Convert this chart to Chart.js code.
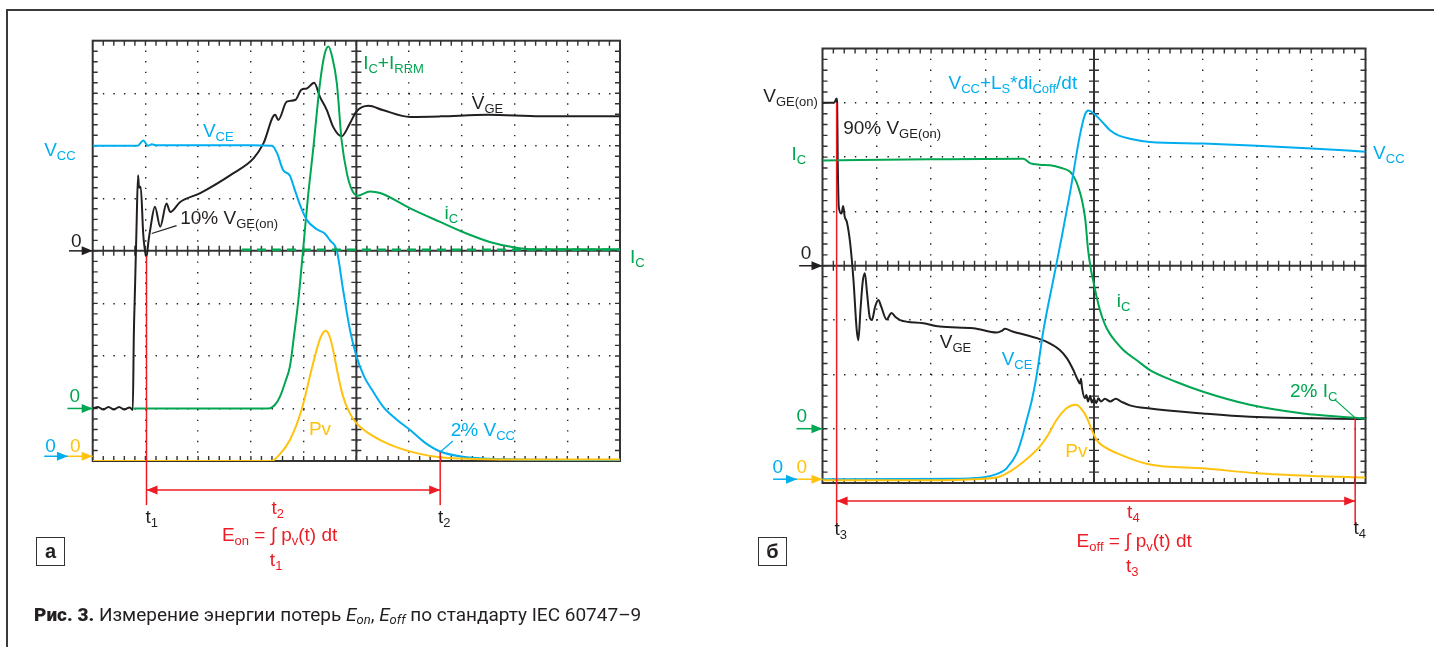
<!DOCTYPE html>
<html>
<head>
<meta charset="utf-8">
<script src="https://cdn.jsdelivr.net/npm/chart.js@4.4.0/dist/chart.umd.min.js"></script>
<style>
  body { margin: 0; background: #fff; width: 1434px; height: 647px; overflow: hidden; position: relative; font-family: "Liberation Sans", Arial, sans-serif; }
  #frame { position: absolute; left: 6px; top: 9px; width: 1440px; height: 660px; border-left: 2px solid #3a3a3a; border-top: 2px solid #3a3a3a; }
  .panel { position: absolute; top: 0; width: 717px; height: 647px; }
  .tag { position: absolute; top: 537px; width: 27px; height: 27px; border: 1.5px solid #333; font: bold 20px "Liberation Sans", Arial, sans-serif; text-align: center; line-height: 26px; color: #231f20; }
  #cap { position: absolute; left: 34px; top: 603px; font-family: "Liberation Sans Narrow", "Roboto", sans-serif; font-size: 19px; color: #231f20; white-space: nowrap; }
  #cap b { font-weight: 900; }
  #cap sub { font-size: 13px; vertical-align: -3px; }
</style>
</head>
<body>
<div id="frame"></div>
<div class="panel" style="left:0"><canvas id="onChart" width="717" height="647"></canvas></div>
<div class="panel" style="left:717px"><canvas id="offChart" width="717" height="647"></canvas></div>
<div class="tag" style="left:36px">а</div>
<div class="tag" style="left:758px">б</div>
<div id="cap"><b>Рис. 3.</b> Измерение энергии потерь <i>E<sub>on</sub></i>, <i>E<sub>off</sub></i> по стандарту IEC 60747–9</div>

<script>
// --- данные: [время (дел.), уровень (дел.)], экран 10 x 8 делений ---

// включение (а)
const onVGE = [[0,1.0],[0.1,1.03],[0.2,0.98],[0.3,1.03],[0.4,0.98],[0.5,1.03],[0.6,0.98],[0.7,1.02],[0.76,0.97],
  [0.78,2.4],[0.8,3.2],[0.83,4.4],[0.86,5.44],[0.88,5.2],[0.91,5.22],[0.96,4.3],[1.02,3.89],[1.06,4.2],[1.09,4.4],
  [1.18,4.84],[1.28,4.46],[1.4,4.9],[1.47,4.74],[1.66,4.93],[2.04,5.1],[2.67,5.48],[3.05,5.76],[3.24,6.05],
  [3.46,6.59],[3.52,6.49],[3.68,6.84],[3.84,6.87],[3.96,7.07],[4.06,7.09],[4.2,7.2],[4.31,6.93],[4.44,6.68],
  [4.56,6.36],[4.72,6.18],[4.88,6.43],[5.0,6.65],[5.23,6.76],[5.5,6.68],[6.02,6.55],[6.6,6.56],[7.5,6.59],
  [8.5,6.56],[10,6.56]];
const onVCE = [[0,6.0],[0.85,6.0],[0.96,6.1],[1.05,6.0],[1.12,6.03],[1.2,6.01],[3.0,6.01],[3.4,6.0],[3.5,5.85],
  [3.61,5.54],[3.74,5.43],[3.82,5.2],[3.94,4.85],[4.06,4.59],[4.25,4.41],[4.4,4.33],[4.5,4.2],[4.63,4.0],
  [4.75,3.25],[4.88,2.49],[5.0,2.0],[5.15,1.6],[5.3,1.35],[5.51,1.03],[5.75,0.8],[6.02,0.59],[6.3,0.35],
  [6.59,0.18],[7.02,0.08],[8.0,0.03],[10,0.02]];
const onIC = [[0.77,1.0],[3.33,1.0],[3.45,1.06],[3.55,1.22],[3.65,1.5],[3.74,1.8],[3.82,2.4],[3.9,3.06],[3.99,4.02],
  [4.08,5.0],[4.18,5.92],[4.31,7.19],[4.4,7.75],[4.47,7.89],[4.54,7.7],[4.63,7.19],[4.72,6.11],[4.82,5.48],
  [4.92,5.15],[5.02,5.05],[5.26,5.13],[5.45,5.1],[6.02,4.81],[6.59,4.55],[7.09,4.33],[7.53,4.17],[7.98,4.07],
  [8.36,4.03],[10,4.03]];
const onICLevel = [[2.83,4.02],[10,4.02]];
const onPV = [[0,0],[3.39,0],[3.55,0.13],[3.74,0.4],[3.96,0.97],[4.18,1.86],[4.32,2.35],[4.42,2.48],[4.5,2.35],
  [4.56,2.11],[4.65,1.65],[4.75,1.22],[4.87,0.92],[5.0,0.72],[5.2,0.55],[5.51,0.37],[5.8,0.25],[6.14,0.15],
  [6.59,0.07],[7.2,0.04],[8.5,0.03],[10,0.03]];
const onMarks = [1.02, 6.59];   // t1, t2

// выключение (б)
const offVGE = [[0,7.0],[0.2,7.0],[0.23,7.02],[0.26,7.08],[0.27,7.0],[0.28,6.0],[0.3,5.08],[0.35,4.96],[0.38,5.1],
  [0.41,4.9],[0.45,4.8],[0.51,4.41],[0.57,3.74],[0.63,2.82],[0.66,2.63],[0.7,3.2],[0.74,3.7],[0.78,3.86],
  [0.82,3.5],[0.87,3.05],[0.91,3.0],[0.97,3.25],[1.03,3.37],[1.08,3.25],[1.18,3.01],[1.27,3.13],[1.35,3.05],
  [1.43,3.0],[1.86,2.94],[2.16,2.88],[2.78,2.85],[3.21,2.77],[3.3,2.8],[3.36,2.84],[3.5,2.79],[3.76,2.72],
  [4.13,2.6],[4.37,2.45],[4.5,2.3],[4.62,2.08],[4.7,1.9],[4.74,1.83],[4.76,1.92],[4.78,1.75],[4.83,1.56],
  [4.86,1.62],[4.89,1.5],[4.93,1.6],[4.96,1.48],[5.0,1.55],[5.04,1.47],[5.08,1.56],[5.13,1.5],[5.2,1.55],
  [5.3,1.5],[5.4,1.55],[5.5,1.5],[5.66,1.43],[6.03,1.37],[7.01,1.28],[7.87,1.22],[10,1.18]];
const offVCE = [[0,0.07],[2.5,0.08],[3.0,0.11],[3.27,0.19],[3.39,0.27],[3.58,0.55],[3.68,0.85],[3.76,1.16],
  [3.85,1.5],[3.94,1.96],[4.07,2.82],[4.25,3.74],[4.4,4.5],[4.56,5.35],[4.74,6.4],[4.84,6.8],[4.9,6.86],
  [5.0,6.8],[5.15,6.65],[5.29,6.5],[5.45,6.4],[5.66,6.34],[6.03,6.28],[7.01,6.25],[8.0,6.21],[9.01,6.16],[10,6.1]];
const offIC = [[0,5.94],[2.0,5.96],[3.7,5.97],[3.82,5.89],[4.0,5.86],[4.19,5.85],[4.4,5.8],[4.56,5.73],[4.65,5.6],
  [4.71,5.45],[4.78,5.2],[4.84,4.85],[4.89,4.3],[4.94,3.95],[4.99,3.7],[5.05,3.42],[5.11,3.18],[5.2,2.92],
  [5.29,2.75],[5.42,2.58],[5.54,2.45],[5.8,2.25],[6.03,2.08],[6.52,1.86],[7.01,1.68],[7.87,1.44],[8.85,1.28],
  [9.81,1.2],[10,1.18]];
const offPV = [[0,0.05],[2.0,0.05],[2.78,0.07],[3.27,0.12],[3.5,0.24],[3.7,0.39],[4.0,0.67],[4.15,0.88],[4.31,1.16],
  [4.5,1.38],[4.67,1.44],[4.77,1.36],[4.86,1.22],[4.95,1.0],[5.05,0.79],[5.17,0.68],[5.42,0.55],[6.03,0.34],
  [7.01,0.27],[8.0,0.18],[9.01,0.13],[10,0.1]];
const offMarks = [0.26, 9.81]; // t3, t4

const BLUE = '#00aeef', GREEN = '#00a651', YELLOW = '#ffc20e', BLACK = '#231f20', RED = '#ed1c24';
const FONT = '"Liberation Sans", Arial, sans-serif';

// текст вида "V_{GE(on)}" -> основной + нижний индекс
function drawRich(ctx, x, y, text, color, size) {
  const parts = text.split(/_\{([^}]*)\}/);
  ctx.fillStyle = color;
  ctx.textAlign = 'left';
  ctx.textBaseline = 'alphabetic';
  let cx = x;
  parts.forEach((p, i) => {
    if (!p) return;
    const sub = i % 2 === 1;
    ctx.font = (sub ? 13 : size) + 'px ' + FONT;
    ctx.fillText(p, cx, sub ? y + 4 : y);
    cx += ctx.measureText(p).width;
  });
}

function drawArrow(ctx, x1, y1, x2, y2, color, both) {
  ctx.strokeStyle = color; ctx.fillStyle = color; ctx.lineWidth = 1.5;
  ctx.beginPath(); ctx.moveTo(x1, y1); ctx.lineTo(x2, y2); ctx.stroke();
  const head = (tx, ty, dir) => {
    ctx.beginPath();
    ctx.moveTo(tx, ty);
    ctx.lineTo(tx - dir * 11, ty - 4.5);
    ctx.lineTo(tx - dir * 11, ty + 4.5);
    ctx.closePath(); ctx.fill();
  };
  head(x2, y2, 1);
  if (both) head(x1, y1, -1);
}

const scopePlugin = {
  id: 'scope',
  beforeDatasetsDraw(chart) {
    const { ctx, chartArea: a, scales: { x, y } } = chart;
    const cx = x.getPixelForValue(5), cy = y.getPixelForValue(4);
    ctx.save();
    ctx.strokeStyle = '#333';
    ctx.lineWidth = 2;
    ctx.strokeRect(a.left, a.top, a.width, a.height);
    ctx.beginPath();
    ctx.moveTo(a.left, cy); ctx.lineTo(a.right, cy);
    ctx.moveTo(cx, a.top); ctx.lineTo(cx, a.bottom);
    ctx.stroke();
    ctx.lineWidth = 1.4;
    ctx.beginPath();
    for (let i = 1; i < 50; i++) {
      const px = x.getPixelForValue(i / 5);
      ctx.moveTo(px, a.top); ctx.lineTo(px, a.top + 5);
      ctx.moveTo(px, a.bottom); ctx.lineTo(px, a.bottom - 5);
      ctx.moveTo(px, cy - 5); ctx.lineTo(px, cy + 5);
    }
    for (let i = 1; i < 40; i++) {
      const py = y.getPixelForValue(i / 5);
      ctx.moveTo(a.left, py); ctx.lineTo(a.left + 5, py);
      ctx.moveTo(a.right, py); ctx.lineTo(a.right - 5, py);
      ctx.moveTo(cx - 5, py); ctx.lineTo(cx + 5, py);
    }
    ctx.stroke();
    ctx.restore();
  },
  afterDatasetsDraw(chart, args, o) {
    const { ctx, scales: { x, y } } = chart;
    const X = v => x.getPixelForValue(v), Y = v => y.getPixelForValue(v);
    ctx.save();
    (o.lines || []).forEach(l => {
      ctx.strokeStyle = l.c; ctx.lineWidth = l.w || 1.5;
      ctx.beginPath(); ctx.moveTo(X(l.x1), Y(l.y1)); ctx.lineTo(X(l.x2), Y(l.y2)); ctx.stroke();
    });
    (o.arrows || []).forEach(r => drawArrow(ctx, X(r.x1), Y(r.y1), X(r.x2), Y(r.y2), r.c, r.both));
    (o.labels || []).forEach(t => drawRich(ctx, X(t.x), Y(t.y), t.t, t.c, 19));
    ctx.restore();
  }
};

function scopeChart(id, pad, dot, series, annot) {
  const axis = (min, max, horiz) => ({
    type: 'linear', min: min, max: max,
    ticks: { display: false, stepSize: 1 },
    grid: { color: '#222', lineWidth: 1.4, drawTicks: false },
    border: { display: false, dash: [1.4, dot - 1.4], dashOffset: 0.7 },
    afterFit: s => { if (horiz) s.height = 0; else s.width = 0; }
  });
  return new Chart(document.getElementById(id), {
    type: 'line',
    data: {
      datasets: series.map(s => ({
        data: s.data.map(p => ({ x: p[0], y: p[1] })),
        borderColor: s.c,
        borderWidth: s.w || 2,
        borderDash: s.dash || [],
        pointRadius: 0,
        cubicInterpolationMode: 'monotone',
        fill: false
      }))
    },
    options: {
      responsive: false,
      animation: false,
      events: [],
      layout: { padding: pad },
      scales: { x: axis(0, 10, true), y: axis(0, 8, false) },
      plugins: { legend: { display: false }, tooltip: { enabled: false }, scope: annot }
    },
    plugins: [scopePlugin]
  });
}

scopeChart('onChart', { left: 92.7, right: 97, top: 40.7, bottom: 186 }, 52.73 / 5, [
  { data: onICLevel, c: GREEN, w: 2.5, dash: [9, 6] },
  { data: onPV, c: YELLOW },
  { data: onVCE, c: BLUE },
  { data: onIC, c: GREEN },
  { data: onVGE, c: BLACK }
], {
  lines: [
    { x1: onMarks[0], y1: 3.9, x2: onMarks[0], y2: -0.84, c: RED },
    { x1: onMarks[1], y1: 0.18, x2: onMarks[1], y2: -0.84, c: RED },
    { x1: 1.12, y1: 4.33, x2: 1.59, y2: 4.48, c: BLACK, w: 1.2 },
    { x1: 6.59, y1: 0.17, x2: 6.83, y2: 0.38, c: BLUE, w: 1.2 }
  ],
  arrows: [
    { x1: -0.45, y1: 4, x2: 0, y2: 4, c: BLACK },
    { x1: -0.48, y1: 1, x2: 0, y2: 1, c: GREEN },
    { x1: -0.92, y1: 0.09, x2: -0.47, y2: 0.09, c: BLUE },
    { x1: -0.47, y1: 0.09, x2: 0, y2: 0.09, c: YELLOW },
    { x1: onMarks[0], y1: -0.55, x2: onMarks[1], y2: -0.55, c: RED, both: true }
  ],
  labels: [
    { x: -0.92, y: 5.8, c: BLUE, t: 'V_{CC}' },
    { x: 2.09, y: 6.17, c: BLUE, t: 'V_{CE}' },
    { x: 5.13, y: 7.47, c: GREEN, t: 'I_{C}+I_{RRM}' },
    { x: 7.19, y: 6.7, c: BLACK, t: 'V_{GE}' },
    { x: 6.67, y: 4.61, c: GREEN, t: 'i_{C}' },
    { x: 10.19, y: 3.77, c: GREEN, t: 'I_{C}' },
    { x: 1.66, y: 4.52, c: BLACK, t: '10% V_{GE(on)}' },
    { x: 4.1, y: 0.49, c: YELLOW, t: 'Pv' },
    { x: 6.79, y: 0.48, c: BLUE, t: '2% V_{CC}' },
    { x: -0.41, y: 4.08, c: BLACK, t: '0' },
    { x: -0.44, y: 1.13, c: GREEN, t: '0' },
    { x: -0.9, y: 0.18, c: BLUE, t: '0' },
    { x: -0.43, y: 0.18, c: YELLOW, t: '0' },
    { x: 1.0, y: -1.18, c: BLACK, t: 't_{1}' },
    { x: 6.55, y: -1.18, c: BLACK, t: 't_{2}' },
    { x: 3.39, y: -1.0, c: RED, t: 't_{2}' },
    { x: 2.45, y: -1.52, c: RED, t: 'E_{on} = ∫ p_{v}(t) dt' },
    { x: 3.36, y: -2.0, c: RED, t: 't_{1}' }
  ]
});

scopeChart('offChart', { left: 105.5, right: 68.5, top: 48.5, bottom: 164 }, 54.3 / 5, [
  { data: offPV, c: YELLOW },
  { data: offVCE, c: BLUE },
  { data: offIC, c: GREEN },
  { data: offVGE, c: BLACK }
], {
  lines: [
    { x1: offMarks[0], y1: 7.0, x2: offMarks[0], y2: -0.77, c: RED },
    { x1: offMarks[1], y1: 1.2, x2: offMarks[1], y2: -0.77, c: RED },
    { x1: 9.44, y1: 1.53, x2: 9.81, y2: 1.2, c: GREEN, w: 1.2 }
  ],
  arrows: [
    { x1: -0.43, y1: 4, x2: 0, y2: 4, c: BLACK },
    { x1: -0.48, y1: 1, x2: 0, y2: 1, c: GREEN },
    { x1: -0.91, y1: 0.07, x2: -0.47, y2: 0.07, c: BLUE },
    { x1: -0.47, y1: 0.07, x2: 0, y2: 0.07, c: YELLOW },
    { x1: offMarks[0], y1: -0.33, x2: offMarks[1], y2: -0.33, c: RED, both: true }
  ],
  labels: [
    { x: -1.09, y: 7.02, c: BLACK, t: 'V_{GE(on)}' },
    { x: 0.38, y: 6.42, c: BLACK, t: '90% V_{GE(on)}' },
    { x: -0.57, y: 5.94, c: GREEN, t: 'I_{C}' },
    { x: -0.4, y: 4.12, c: BLACK, t: '0' },
    { x: 2.32, y: 7.26, c: BLUE, t: 'V_{CC}+L_{S}*di_{Coff}/dt' },
    { x: 10.14, y: 5.96, c: BLUE, t: 'V_{CC}' },
    { x: 5.42, y: 3.24, c: GREEN, t: 'i_{C}' },
    { x: 2.16, y: 2.48, c: BLACK, t: 'V_{GE}' },
    { x: 3.3, y: 2.17, c: BLUE, t: 'V_{CE}' },
    { x: 4.47, y: 0.47, c: YELLOW, t: 'Pv' },
    { x: 8.61, y: 1.59, c: GREEN, t: '2% I_{C}' },
    { x: -0.48, y: 1.13, c: GREEN, t: '0' },
    { x: -0.92, y: 0.19, c: BLUE, t: '0' },
    { x: -0.48, y: 0.19, c: YELLOW, t: '0' },
    { x: 0.22, y: -0.96, c: BLACK, t: 't_{3}' },
    { x: 9.78, y: -0.93, c: BLACK, t: 't_{4}' },
    { x: 5.61, y: -0.65, c: RED, t: 't_{4}' },
    { x: 4.68, y: -1.17, c: RED, t: 'E_{off} = ∫ p_{v}(t) dt' },
    { x: 5.59, y: -1.63, c: RED, t: 't_{3}' }
  ]
});
</script>
</body>
</html>
